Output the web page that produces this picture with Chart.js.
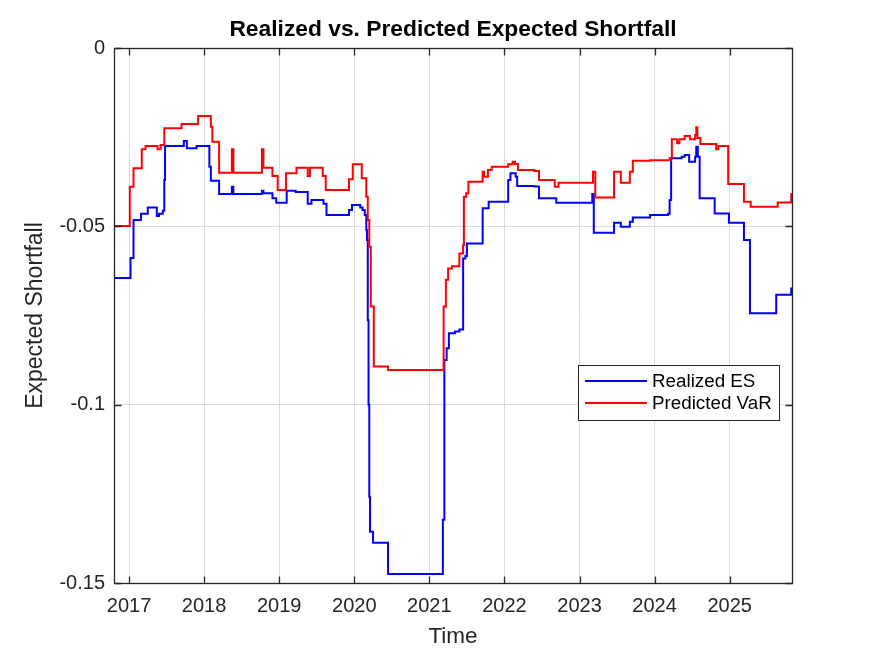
<!DOCTYPE html>
<html>
<head>
<meta charset="utf-8">
<script src="https://cdn.jsdelivr.net/npm/chart.js@4.4.1/dist/chart.umd.min.js"></script>
<style>
  html, body { margin: 0; padding: 0; background: #fff; }
</style>
</head>
<body>
<canvas id="esChart" width="875" height="656"></canvas>
<script>
// Data (decimal years, value holds from that date on)
const esDates = [
  2016.80, 2017.02, 2017.06, 2017.16, 2017.25, 2017.37, 2017.40, 2017.45, 2017.47, 2017.48,
  2017.73, 2017.77, 2017.90, 2018.07, 2018.09, 2018.20, 2018.37, 2018.39, 2018.77, 2018.79,
  2018.91, 2018.96, 2019.10, 2019.22, 2019.38, 2019.43, 2019.59, 2019.63, 2019.93, 2019.97,
  2020.08, 2020.11, 2020.14, 2020.16, 2020.17, 2020.18, 2020.19, 2020.20, 2020.21, 2020.25,
  2020.45, 2021.18, 2021.20, 2021.23, 2021.26, 2021.34, 2021.40, 2021.45, 2021.48, 2021.50,
  2021.71, 2021.79, 2022.05, 2022.08, 2022.15, 2022.17, 2022.40, 2022.46, 2022.69, 2023.17,
  2023.19, 2023.46, 2023.55, 2023.67, 2023.71, 2023.94, 2024.18, 2024.20, 2024.22, 2024.36,
  2024.40, 2024.46, 2024.54, 2024.555, 2024.575, 2024.60, 2024.80, 2024.99, 2025.19, 2025.27,
  2025.62, 2025.82, 2025.83
];
const esValues = [
  -0.0645, -0.0589, -0.0482, -0.0465, -0.0447, -0.0471, -0.0465, -0.0456, -0.0370, -0.0275,
  -0.0261, -0.0281, -0.0275, -0.0333, -0.0372, -0.0409, -0.0389, -0.0409, -0.0400, -0.0407,
  -0.0421, -0.0434, -0.0400, -0.0404, -0.0437, -0.0426, -0.0437, -0.0468, -0.0454, -0.0440,
  -0.0447, -0.0454, -0.0468, -0.0510, -0.0538, -0.0763, -0.1000, -0.1258, -0.1356, -0.1387,
  -0.1475, -0.1323, -0.0875, -0.0842, -0.0800, -0.0795, -0.0789, -0.0590, -0.0583, -0.0548,
  -0.0449, -0.0431, -0.0370, -0.0351, -0.0361, -0.0387, -0.0388, -0.0421, -0.0434, -0.0409,
  -0.0518, -0.0490, -0.0501, -0.0487, -0.0475, -0.0468, -0.0465, -0.0426, -0.0309, -0.0305,
  -0.0300, -0.0319, -0.0305, -0.0277, -0.0305, -0.0421, -0.0464, -0.0490, -0.0538, -0.0744,
  -0.0692, -0.0674, -0.0674
];

const varDates = [
  2016.80, 2017.01, 2017.06, 2017.17, 2017.22, 2017.38, 2017.42, 2017.47, 2017.70, 2017.92,
  2018.09, 2018.11, 2018.20, 2018.37, 2018.39, 2018.77, 2018.79, 2018.91, 2018.98, 2019.09,
  2019.23, 2019.38, 2019.41, 2019.58, 2019.62, 2019.93, 2019.98, 2020.10, 2020.16, 2020.18,
  2020.20, 2020.22, 2020.26, 2020.45, 2021.19, 2021.22, 2021.25, 2021.30, 2021.40, 2021.45,
  2021.46, 2021.49, 2021.52, 2021.71, 2021.73, 2021.78, 2021.83, 2022.05, 2022.11, 2022.14,
  2022.18, 2022.40, 2022.46, 2022.67, 2022.72, 2023.18, 2023.21, 2023.46, 2023.55, 2023.67,
  2023.71, 2023.94, 2024.20, 2024.23, 2024.30, 2024.33, 2024.40, 2024.47, 2024.54, 2024.555,
  2024.57, 2024.61, 2024.82, 2024.85, 2024.98, 2025.19, 2025.28, 2025.64, 2025.82, 2025.83
];
const varValues = [
  -0.0499, -0.0389, -0.0337, -0.0284, -0.0275, -0.0284, -0.0272, -0.0225, -0.0213, -0.0191,
  -0.0221, -0.0263, -0.0350, -0.0284, -0.0350, -0.0284, -0.0336, -0.0359, -0.0398, -0.0351,
  -0.0336, -0.0359, -0.0336, -0.0359, -0.0398, -0.0368, -0.0326, -0.0365, -0.0417, -0.0482,
  -0.0557, -0.0725, -0.0893, -0.0903, -0.0725, -0.0650, -0.0618, -0.0612, -0.0576, -0.0552,
  -0.0417, -0.0407, -0.0375, -0.0347, -0.0361, -0.0342, -0.0333, -0.0326, -0.0319, -0.0325,
  -0.0342, -0.0345, -0.0370, -0.0389, -0.0378, -0.0347, -0.0419, -0.0347, -0.0378, -0.0347,
  -0.0316, -0.0315, -0.0309, -0.0256, -0.0267, -0.0256, -0.0247, -0.0256, -0.0244, -0.0222,
  -0.0252, -0.0269, -0.0284, -0.0275, -0.0381, -0.0431, -0.0445, -0.0433, -0.0410, -0.0410
];

const xTicks = [2017, 2018, 2019, 2020, 2021, 2022, 2023, 2024, 2025];
const yTicks = [-0.15, -0.1, -0.05, 0];

const FONT = "'Liberation Sans', Arial, Helvetica, sans-serif";
const AXIS_COLOR = '#262626';

function toPoints(dates, values) {
  return dates.map((d, i) => ({ x: d, y: values[i] }));
}

// Title centred over the plot area
const titlePlugin = {
  id: 'plotTitle',
  afterDraw(chart) {
    const { ctx, chartArea: a } = chart;
    ctx.save();
    ctx.font = 'bold 22.8px ' + FONT;
    ctx.fillStyle = '#000';
    ctx.textAlign = 'center';
    ctx.textBaseline = 'middle';
    ctx.fillText('Realized vs. Predicted Expected Shortfall', (a.left + a.right) / 2, 30);
    ctx.restore();
  }
};

// MATLAB-like box with inward ticks on all sides
const axesBox = {
  id: 'axesBox',
  afterDraw(chart) {
    const { ctx, chartArea: a, scales } = chart;
    const tickLen = 7;
    const L = Math.round(a.left) + 0.5, R = Math.round(a.right) + 0.5;
    const T = Math.round(a.top) + 0.5, B = Math.round(a.bottom) + 0.5;
    ctx.save();
    ctx.strokeStyle = AXIS_COLOR;
    ctx.lineWidth = 1.3;
    ctx.strokeRect(L, T, R - L, B - T);
    ctx.beginPath();
    scales.x.ticks.forEach(t => {
      const px = Math.round(scales.x.getPixelForValue(t.value)) + 0.5;
      ctx.moveTo(px, B); ctx.lineTo(px, B - tickLen);
      ctx.moveTo(px, T); ctx.lineTo(px, T + tickLen);
    });
    scales.y.ticks.forEach(t => {
      const py = Math.round(scales.y.getPixelForValue(t.value)) + 0.5;
      ctx.moveTo(L, py); ctx.lineTo(L + tickLen, py);
      ctx.moveTo(R, py); ctx.lineTo(R - tickLen, py);
    });
    ctx.stroke();
    ctx.restore();
  }
};

// Legend box inside the plot, lower right
const boxLegend = {
  id: 'boxLegend',
  afterDraw(chart) {
    const { ctx } = chart;
    const x = 578, y = 365, w = 201, h = 55;
    ctx.save();
    ctx.fillStyle = '#fff';
    ctx.fillRect(x, y, w, h);
    ctx.strokeStyle = AXIS_COLOR;
    ctx.lineWidth = 1;
    ctx.strokeRect(x + 0.5, y + 0.5, w, h);
    ctx.font = '18.8px ' + FONT;
    ctx.textBaseline = 'middle';
    chart.data.datasets.forEach((ds, i) => {
      const ly = y + 16 + i * 22;
      ctx.strokeStyle = ds.borderColor;
      ctx.lineWidth = 2;
      ctx.beginPath();
      ctx.moveTo(x + 7, ly);
      ctx.lineTo(x + 69, ly);
      ctx.stroke();
      ctx.fillStyle = '#000';
      ctx.fillText(ds.label, x + 74, ly + 1);
    });
    ctx.restore();
  }
};

const ctx = document.getElementById('esChart').getContext('2d');

new Chart(ctx, {
  type: 'line',
  data: {
    datasets: [{
      label: 'Realized ES',
      data: toPoints(esDates, esValues),
      borderColor: '#0000ff',
      borderWidth: 2,
      pointRadius: 0,
      stepped: true,
      order: 1
    }, {
      label: 'Predicted VaR',
      data: toPoints(varDates, varValues),
      borderColor: '#ff0000',
      borderWidth: 2,
      pointRadius: 0,
      stepped: true,
      order: 0
    }]
  },
  options: {
    responsive: false,
    animation: false,
    devicePixelRatio: 1,
    layout: { padding: { top: 48, right: 83, left: 0, bottom: 0 } },
    plugins: {
      legend: { display: false },
      tooltip: { enabled: false }
    },
    scales: {
      x: {
        type: 'linear',
        min: 2016.8,
        max: 2025.83,
        afterBuildTicks: scale => { scale.ticks = xTicks.map(v => ({ value: v })); },
        afterFit: scale => { scale.height = 73; },
        grid: { color: '#dcdcdc', lineWidth: 1, drawTicks: false },
        border: { display: false },
        ticks: {
          color: AXIS_COLOR,
          font: { family: FONT, size: 20 },
          padding: 11,
          maxRotation: 0,
          autoSkip: false,
          callback: v => String(v)
        },
        title: {
          display: true,
          text: 'Time',
          color: AXIS_COLOR,
          font: { family: FONT, size: 22.5 },
          padding: { top: 0, bottom: 6 }
        }
      },
      y: {
        min: -0.15,
        max: 0,
        afterBuildTicks: scale => { scale.ticks = yTicks.map(v => ({ value: v })); },
        afterFit: scale => { scale.width = 114; },
        grid: { color: '#dcdcdc', lineWidth: 1, drawTicks: false },
        border: { display: false },
        ticks: {
          color: AXIS_COLOR,
          font: { family: FONT, size: 20 },
          padding: 9,
          autoSkip: false,
          callback: v => String(v)
        },
        title: {
          display: true,
          text: 'Expected Shortfall',
          color: AXIS_COLOR,
          font: { family: FONT, size: 23 },
          padding: { top: 22, bottom: 0 }
        }
      }
    }
  },
  plugins: [titlePlugin, axesBox, boxLegend]
});
</script>
</body>
</html>
